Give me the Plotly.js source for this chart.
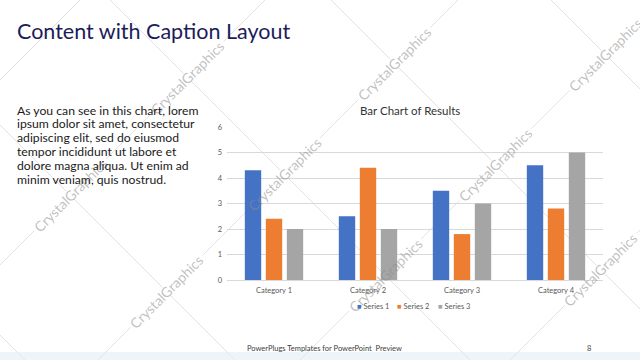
<!DOCTYPE html>
<html><head><meta charset="utf-8">
<script src="https://cdn.plot.ly/plotly-3.0.1.min.js"></script>
<style>html,body{margin:0;padding:0;background:#fff;}#chart{width:640px;height:360px;}</style>
</head><body><div id="chart"></div>
<script>
// ---- data ----
const categories = ['Category 1', 'Category 2', 'Category 3', 'Category 4'];
const seriesNames = ['Series 1', 'Series 2', 'Series 3'];
const series1 = [4.3, 2.5, 3.5, 4.5];
const series2 = [2.4, 4.4, 1.8, 2.8];
const series3 = [2, 2, 3, 5];
const yTickValues = [0, 1, 2, 3, 4, 5, 6];
const slideTitle = 'Content with Caption Layout';
const chartTitle = 'Bar Chart of Results';
const captionLines = [
  'As you can see in this chart, lorem',
  'ipsum dolor sit amet, consectetur',
  'adipiscing elit, sed do eiusmod',
  'tempor incididunt ut labore et',
  'dolore magna aliqua. Ut enim ad',
  'minim veniam, quis nostrud.'
];
const footerText = 'PowerPlugs Templates for PowerPoint  Preview';
const pageNumber = '8';
const watermarkText = 'CrystalGraphics';

// ---- styles / layout ----
const seriesColors = ['#4472C4', '#ED7D31', '#A5A5A5'];
const FONT = 'Lato, "Open Sans", sans-serif';
const W = 640, H = 360, L = 227, R = 603, T = 127, B = 280;
const px = x => (x - L) / (R - L);
const py = y => (B - y) / (B - T);

const allSeries = [series1, series2, series3];
const traces = allSeries.map((vals, i) => ({
  type: 'bar', x: categories, y: vals, name: seriesNames[i],
  marker: { color: seriesColors[i], line: { width: 0 } },
  hoverinfo: 'skip'
}));

const annotations = [];
const shapes = [];

// background watermark lattice
const riseLines = [80, 265, 458, 660, 870];     // x + y = s
const descLines = [-335, -125, 110, 331, 551];  // x - y = d
const marks = [];
riseLines.forEach(s => descLines.forEach(d => {
  const x = (s + d) / 2, y = (s - d) / 2;
  if (x >= 0 && x <= W && y >= 0 && y <= H) marks.push({ x, y, s, d });
}));
const lineStyle = { color: '#e2e2e2', width: 1 };
function addSegments(xa, xb, f, gaps) {
  let cur = xa;
  gaps.sort((a, b) => a[0] - b[0]).forEach(g => {
    if (g[0] > cur) shapes.push({ type: 'line', xref: 'paper', yref: 'paper', layer: 'below',
      x0: px(cur), y0: py(f(cur)), x1: px(Math.min(g[0], xb)), y1: py(f(Math.min(g[0], xb))), line: lineStyle });
    cur = Math.max(cur, g[1]);
  });
  if (cur < xb) shapes.push({ type: 'line', xref: 'paper', yref: 'paper', layer: 'below',
    x0: px(cur), y0: py(f(cur)), x1: px(xb), y1: py(f(xb)), line: lineStyle });
}
riseLines.forEach(s => {
  const xa = Math.max(-5, s - H - 5), xb = Math.min(W + 5, s + 5);
  const gaps = marks.filter(m => m.s === s).map(m => [m.x - 36, m.x + 36]);
  addSegments(xa, xb, x => s - x, gaps);
});
descLines.forEach(d => {
  const xa = Math.max(-5, d - 5), xb = Math.min(W + 5, d + H + 5);
  const gaps = marks.filter(m => m.d === d).map(m => [m.x - 4, m.x + 4]);
  addSegments(xa, xb, x => x - d, gaps);
});
marks.forEach(m => annotations.push({
  text: watermarkText, xref: 'paper', yref: 'paper', x: px(m.x), y: py(m.y),
  xanchor: 'center', yanchor: 'middle', textangle: -45, showarrow: false,
  font: { family: FONT, size: 14, color: 'rgba(140,140,140,0.55)' }
}));

// bottom light strip
shapes.push({ type: 'rect', xref: 'paper', yref: 'paper', layer: 'below', line: { width: 0 },
  x0: px(0), x1: px(W), y0: py(352), y1: py(H), fillcolor: 'rgba(225,235,242,0.55)' });

// slide title
annotations.push({ text: slideTitle, xref: 'paper', yref: 'paper', x: px(15), y: py(31),
  xanchor: 'left', yanchor: 'middle', showarrow: false,
  font: { family: FONT, size: 21.5, color: '#1c1c5a' } });

// caption
captionLines.forEach((t, i) => annotations.push({ text: t, xref: 'paper', yref: 'paper',
  x: px(15), y: py(110 + 13.9 * i), xanchor: 'left', yanchor: 'middle', showarrow: false,
  font: { family: FONT, size: 12.2, color: '#1a1a1a' } }));

// chart title
annotations.push({ text: chartTitle, xref: 'paper', yref: 'paper', x: px(410), y: py(110),
  xanchor: 'center', yanchor: 'middle', showarrow: false,
  font: { family: FONT, size: 11.5, color: '#333333' } });

// legend
const legendX = [355, 395, 436];
seriesNames.forEach((n, i) => annotations.push({
  text: '<span style="color:' + seriesColors[i] + '">■</span> ' + n,
  xref: 'paper', yref: 'paper', x: px(legendX[i]), y: py(306), xanchor: 'left', yanchor: 'middle',
  showarrow: false, font: { family: FONT, size: 7.5, color: '#595959' } }));

// footer
annotations.push({ text: footerText, xref: 'paper', yref: 'paper', x: px(245), y: py(348),
  xanchor: 'left', yanchor: 'middle', showarrow: false,
  font: { family: FONT, size: 7.5, color: '#404040' } });
annotations.push({ text: pageNumber, xref: 'paper', yref: 'paper', x: px(589), y: py(348),
  xanchor: 'center', yanchor: 'middle', showarrow: false,
  font: { family: FONT, size: 7.5, color: '#404040' } });

const layout = {
  width: W, height: H,
  margin: { l: L, r: W - R, t: T, b: H - B, pad: 0 },
  paper_bgcolor: '#ffffff', plot_bgcolor: 'rgba(0,0,0,0)',
  showlegend: false,
  barmode: 'group', bargap: 0.33, bargroupgap: 0.22,
  font: { family: FONT, color: '#595959' },
  xaxis: { type: 'category', showgrid: false, zeroline: false, showline: true,
    linecolor: '#d9d9d9', linewidth: 1, ticks: '', ticklabelstandoff: 3,
    tickfont: { family: FONT, size: 7.5, color: '#595959' }, fixedrange: true },
  yaxis: { range: [0, 6], tickvals: yTickValues, showgrid: true, gridcolor: '#d9d9d9',
    gridwidth: 1, zeroline: false, showline: false, ticks: '', ticklabelstandoff: 4,
    tickfont: { family: FONT, size: 7.5, color: '#595959' }, fixedrange: true },
  annotations, shapes
};

Plotly.newPlot('chart', traces, layout, { staticPlot: true, displayModeBar: false });
</script></body></html>
